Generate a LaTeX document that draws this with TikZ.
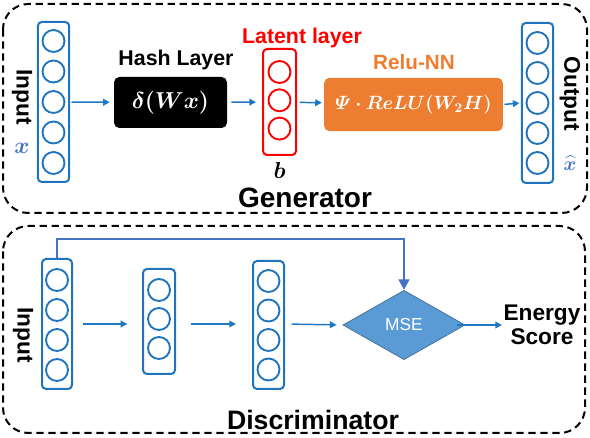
\documentclass[tikz,border=0pt]{standalone}
\usepackage{amsmath,bm}
\usepackage{fontspec}
\setmainfont{Liberation Sans}
\usetikzlibrary{shapes.geometric,arrows.meta}
\definecolor{colblue}{HTML}{1F74BD}
\definecolor{arrblue}{HTML}{1F78C4}
\definecolor{fbblue}{HTML}{4472C4}
\definecolor{xblue}{HTML}{4472C4}
\definecolor{orng}{HTML}{ED7D31}
\definecolor{msefill}{HTML}{5B9BD5}
\definecolor{mseline}{HTML}{41719C}
\begin{document}
\begin{tikzpicture}[x=0.75pt,y=-0.75pt,
  outer/.style={draw=black,line width=1.5pt,dash pattern=on 5.5pt off 3.5pt,rounded corners=19pt},
  col/.style={draw=#1,line width=1.5pt,rounded corners=3pt,minimum width=23.5pt,inner sep=0pt},
  circ/.style={circle,draw=#1,line width=1.4pt,minimum size=16.5pt,inner sep=0pt},
  arr/.style={draw=arrblue,line width=1.1pt,-{Triangle[length=5pt,width=5pt]}},
  lbl/.style={font=\bfseries\fontsize{#1}{#1}\selectfont,inner sep=0pt},
  ]
\useasboundingbox (0,0) rectangle (590,438);
% outer boxes
\draw[outer] (3,4) rectangle (587,213);
\draw[outer] (3,226) rectangle (585,433);

% ---------- Generator ----------
\node[col=colblue,minimum height=120pt] (gin) at (53.5,102) {};
\foreach \i/\y in {1/41,2/71.5,3/102,4/132.5,5/163}
  \node[circ=colblue] (gin\i) at (53.5,\y) {};
\node[lbl=17,rotate=-90] (ginl) at (22,97) {Input};
\node[text=xblue,inner sep=0pt] (gx) at (22,148) {\fontsize{16}{16}\selectfont$\bm{x}$};

\node[fill=black,rounded corners=4pt,minimum width=84.75pt,minimum height=38.25pt,text=white] (hash) at (170.5,102.5)
  {\fontsize{16}{16}\selectfont$\bm{\delta(W x)}$};
\node[lbl=16] (hashl) at (176,60) {Hash Layer};

\node[col=red,minimum width=24.75pt,minimum height=79.5pt] (lat) at (279.5,102) {};
\foreach \i/\y in {1/72,2/100.3,3/128.6}
  \node[circ=red] (lat\i) at (279.5,\y) {};
\node[lbl=16,text=red] (latl) at (302,38) {Latent layer};
\node[inner sep=0pt] (bl) at (279.5,171) {\fontsize{17}{17}\selectfont$\bm{b}$};

\node[fill=orng,rounded corners=4pt,minimum width=134pt,minimum height=40pt,text=white] (relu) at (413.5,104.5)
  {\fontsize{14}{14}\selectfont$\bm{\varPsi\cdot ReLU(W_2H)}$};
\node[lbl=15.5,text=orng] (relul) at (414,62) {Relu-NN};

\node[col=colblue,minimum height=120pt] (gout) at (537.5,103) {};
\foreach \i/\y in {1/43,2/73,3/103,4/133,5/163}
  \node[circ=colblue] (gout\i) at (537.5,\y) {};
\node[lbl=17,rotate=-90] (goutl) at (570,94) {Output};
\node[text=xblue,inner sep=0pt] (gxh) at (570,163) {\fontsize{15}{15}\selectfont$\bm{\widehat{x}}$};

\node[lbl=21] (gen) at (305,198) {Generator};

\draw[arr,shorten <=1pt,shorten >=3pt] (gin) -- (hash);
\draw[arr,shorten <=3pt,shorten >=4.5pt] (hash) -- (lat);
\draw[arr,shorten <=2pt,shorten >=1.5pt] (lat) -- (relu);
\draw[arr,shorten <=1pt,shorten >=1pt] (relu.east) -- (gout.west);

% ---------- Discriminator ----------
\node[col=colblue,minimum width=22.5pt,minimum height=97.5pt] (d1) at (57,324) {};
\foreach \i/\y in {1/280,2/310,3/340,4/370}
  \node[circ=colblue] (d1c\i) at (57,\y) {};
\node[lbl=17,rotate=-90] (dinl) at (23,335) {Input};

\node[col=colblue,minimum width=24pt,minimum height=78.75pt] (d2) at (159,321.5) {};
\foreach \i/\y in {1/290,2/319,3/348}
  \node[circ=colblue] (d2c\i) at (159,\y) {};

\node[col=colblue,minimum width=23.25pt,minimum height=96pt] (d3) at (268.5,325) {};
\foreach \i/\y in {1/281,2/310.5,3/340,4/369.5}
  \node[circ=colblue] (d3c\i) at (268.5,\y) {};

\node[diamond,fill=msefill,draw=mseline,line width=0.6pt,minimum width=91.5pt,minimum height=52pt,inner sep=0pt,text=white] (mse) at (404,325)
  {\fontsize{13}{13}\selectfont MSE};
\node[lbl=17,align=center] (es) at (542,325) {Energy\\[1pt]Score};
\node[lbl=20] (disc) at (313,420) {Discriminator};

\draw[arr,shorten <=7.5pt,shorten >=11pt] (d1.east |- 0,324) -- (d2.west |- 0,324);
\draw[arr,shorten <=11pt,shorten >=12pt] (d2.east |- 0,324) -- (d3.west |- 0,324);
\draw[arr,shorten <=5pt,shorten >=4.5pt] (d3.east |- 0,324) -- (mse.west);
\draw[arr,shorten <=-6pt,shorten >=1pt] (mse.east) -- (es.west);

\coordinate (fb1) at (57,239);
\coordinate (fb2) at (404,239);
\draw[draw=fbblue,line width=2.2pt,-{Triangle[length=8pt,width=8pt]}] (d1.north) -- (fb1) -- (fb2) -- (mse.north);
\end{tikzpicture}
\end{document}
